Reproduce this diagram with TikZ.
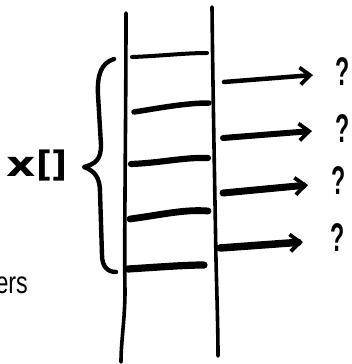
\documentclass[tikz,border=0pt]{standalone}
\usepackage{fontspec}
\setmainfont{Liberation Sans}
\newfontfamily\djb{DejaVu Sans}
\usetikzlibrary{arrows.meta}
\tikzset{
  rail/.style={line width=3.6pt, line cap=round, line join=round},
  rung/.style={line width=#1, line cap=round},
  bracestroke/.style={line width=4.4pt, line cap=round, line join=round},
  arr/.style={line width=#1, line cap=round, -{Straight Barb[length=10pt,width=17pt,line width=3.8pt]}},
  qm/.style={inner sep=0pt, font=\bfseries\fontsize{40}{40}\selectfont, xscale=0.58},
}
\begin{document}
\begin{tikzpicture}[x=1pt,y=-1pt]
\useasboundingbox (0,0) rectangle (351,364);
% rails
\coordinate (lt) at (126,13);
\coordinate (lb) at (121,362);
\coordinate (rt) at (212,7);
\coordinate (rb) at (218,356);
\draw[rail] (lt) .. controls (126,120) and (124,250) .. (125,290) .. controls (125,320) and (121,340) .. (lb);
\draw[rail] (rt) .. controls (213,100) and (215,200) .. (216,260) .. controls (217,300) and (218,330) .. (rb);
% rungs
\coordinate (r1a) at (132,57); \coordinate (r1b) at (207,53);
\coordinate (r2a) at (134,112); \coordinate (r2b) at (209,103);
\coordinate (r3a) at (131,164); \coordinate (r3b) at (208,158);
\coordinate (r4a) at (130,219); \coordinate (r4b) at (208,211);
\coordinate (r5a) at (128,269); \coordinate (r5b) at (204,265);
\draw[rung=4pt] (r1a) .. controls (160,56) and (185,53) .. (r1b);
\draw[rung=5.5pt] (r2a) .. controls (160,108) and (185,103) .. (r2b);
\draw[rung=6.2pt] (r3a) .. controls (160,163) and (185,157) .. (r3b);
\draw[rung=6.8pt] (r4a) .. controls (160,215) and (185,209) .. (r4b);
\draw[rung=7.2pt] (r5a) .. controls (160,267) and (185,265) .. (r5b);
% brace
\coordinate (bt) at (114,59);
\coordinate (bm) at (84,167);
\coordinate (bb) at (116,272);
\draw[bracestroke] (bt) .. controls (101,63) and (97,75) .. (98,95)
  -- (101,145) .. controls (101,160) and (95,164) .. (bm)
  .. controls (95,171) and (100,178) .. (100,192)
  -- (102,255) .. controls (102,267) and (108,272) .. (bb);
% label x[]
\node[inner sep=0pt, font=\djb\bfseries\fontsize{35}{35}\selectfont, anchor=base west] (xl) at (6,176) {\scalebox{1.3}[1]{x}\kern1pt[\kern-1pt]};
% arrows and question marks
\coordinate (a1) at (224,82); \coordinate (h1) at (313,75);
\coordinate (a2) at (223,138); \coordinate (h2) at (312,131);
\coordinate (a3) at (223,193); \coordinate (h3) at (308,185);
\coordinate (a4) at (220,248); \coordinate (h4) at (303,242);
\draw[arr=4.5pt] (a1) -- (h1);
\draw[arr=6pt] (a2) -- (h2);
\draw[arr=7pt] (a3) -- (h3);
\draw[arr=7.5pt] (a4) -- (h4);
\node[qm] (q1) at (343,72) {?};
\node[qm] (q2) at (343,129) {?};
\node[qm] (q3) at (339,181) {?};
\node[qm] (q4) at (338,238) {?};
% partial label
\node[inner sep=0pt, anchor=base east, font=\fontsize{31}{31}\selectfont, xscale=0.75] (ers) at (28,293) {ers};
\end{tikzpicture}
\end{document}
